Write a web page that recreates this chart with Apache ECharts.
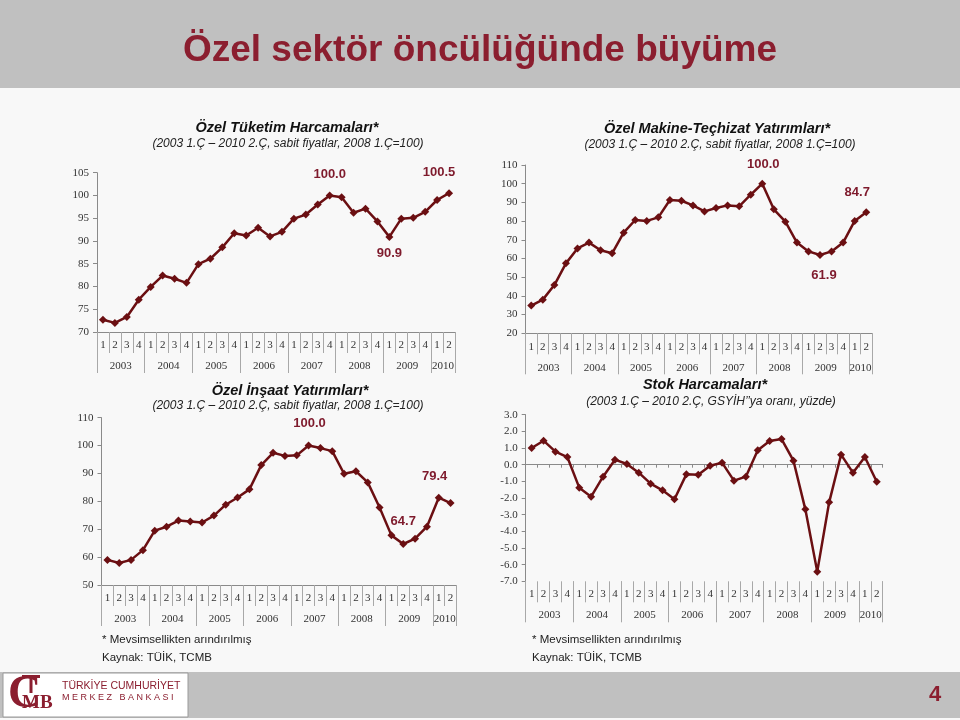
<!DOCTYPE html>
<html>
<head>
<meta charset="utf-8">
<script src="https://cdn.jsdelivr.net/npm/echarts@6/dist/echarts.min.js"></script>
<style>
html,body{margin:0;padding:0;background:#f8f8f8;}
#chart{width:960px;height:720px;}
</style>
</head>
<body>
<div id="chart"></div>
<script>
// ---- Data ----
const quarterLabels = ['1','2','3','4','1','2','3','4','1','2','3','4','1','2','3','4','1','2','3','4','1','2','3','4','1','2','3','4','1','2'];
const yearLabels = ['2003','2004','2005','2006','2007','2008','2009','2010'];
const yearQuarterCounts = [4,4,4,4,4,4,4,2];

const privateConsumption = [72.7,72.0,73.3,77.1, 79.9,82.4,81.7,80.8, 84.9,86.1,88.6,91.7, 91.2,92.9,91.0,92.0, 94.9,95.8,98.0,100.0, 99.6,96.2,97.1,94.3, 90.9,94.9,95.1,96.4, 99.0,100.5];
const machineryInvestment = [34.8,38.0,45.8,57.4, 65.4,68.5,64.4,62.8, 73.8,80.6,80.1,82.0, 91.3,90.9,88.4,85.2, 87.0,88.4,87.9,94.1, 100.0,86.3,79.7,68.5, 63.8,61.9,63.8,68.5, 80.1,84.7];
const constructionInvestment = [59.0,57.9,59.0,62.5, 69.5,70.9,73.1,72.8, 72.4,74.9,78.8,81.4, 84.3,93.0,97.4,96.3, 96.5,100.0,99.1,98.0, 89.9,90.8,86.8,77.8, 67.8,64.7,66.6,70.9, 81.3,79.4];
const inventoryChange = [1.0,1.44,0.78,0.46, -1.38,-1.92,-0.72,0.3, 0.04,-0.48,-1.14,-1.54, -2.08,-0.58,-0.6,-0.06, 0.12,-0.96,-0.72,0.86, 1.42,1.54,0.24,-2.68, -6.42,-2.26,0.6,-0.48, 0.46,-1.02];

const chartTitles = ['Özel Tüketim Harcamaları*','Özel Makine-Teçhizat Yatırımları*','Özel İnşaat Yatırımları*','Stok Harcamaları*'];
const chartSubtitles = ['(2003 1.Ç – 2010 2.Ç, sabit fiyatlar, 2008 1.Ç=100)','(2003 1.Ç – 2010 2.Ç, sabit fiyatlar, 2008 1.Ç=100)','(2003 1.Ç – 2010 2.Ç, sabit fiyatlar, 2008 1.Ç=100)','(2003 1.Ç – 2010 2.Ç, GSYİH’’ya oranı, yüzde)'];
const pageTitle = 'Özel sektör öncülüğünde büyüme';

// ---- Derived axis positions ----
const yearBounds = [0];
const yearCenters = [];
yearQuarterCounts.forEach(function(n){
  const start = yearBounds[yearBounds.length-1];
  yearCenters.push(start + n/2);
  yearBounds.push(start + n);
});

// ---- Styles ----
const LINE = '#6b0f12';
const LBL = '#7e1a2c';
const AX = '#8a8a8a';
const SERIF = "'Liberation Serif','Times New Roman',serif";
const SANS = "'Liberation Sans',Arial,sans-serif";

const grids = [
  {left:97, top:172.7, width:358, height:159.3},
  {left:525.5, top:165, width:346.5, height:168.3},
  {left:101.5, top:417.7, width:355, height:167.3},
  {left:525.7, top:414.7, width:357, height:166.6}
];
const yRanges = [
  {min:70, max:105, interval:5, dec:0},
  {min:20, max:110, interval:10, dec:0},
  {min:50, max:110, interval:10, dec:0},
  {min:-7, max:3, interval:1, dec:1}
];

const xAxes = [];
const yAxes = [];
const seriesList = [];
const datasets = [privateConsumption, machineryInvestment, constructionInvestment, inventoryChange];
// label placement: [index, position, offset]
const labelSpecs = [
  [[19,'top',[0,-6]],[29,'top',[-10,-5]],[24,'bottom',[0,1]]],
  [[20,'top',[1,-4]],[29,'top',[-9,-4]],[25,'bottom',[4,5]]],
  [[17,'top',[1,-7]],[25,'top',[0,-7]],[29,'top',[-16,-11]]],
  []
];

grids.forEach(function(g, gi){
  const isStock = gi === 3;
  const qIndex = xAxes.length;
  xAxes.push({
    type:'category', gridIndex:gi, data:quarterLabels, boundaryGap:true, position:'bottom',
    axisLine:{show:!isStock, onZero:false, lineStyle:{color:AX, width:1}},
    axisTick:{show:true, interval:0, length:21, lineStyle:{color:'#a8a8a8'}},
    axisLabel:{interval:0, margin:isStock?7:8, fontFamily:SERIF, fontSize:11, color:'#333'},
    splitLine:{show:false}
  });
  xAxes.push({
    type:'value', gridIndex:gi, min:0, max:30, position:'bottom',
    axisLine:{show:false, onZero:false},
    axisTick:{show:true, customValues:yearBounds, length:41, lineStyle:{color:'#a8a8a8'}},
    axisLabel:{customValues:yearCenters, margin:isStock?28:29, fontFamily:SERIF, fontSize:11, color:'#333',
      formatter:function(v){ const i = yearCenters.indexOf(v); return i>=0 ? yearLabels[i] : ''; }},
    splitLine:{show:false}
  });
  if (isStock) {
    xAxes.push({
      type:'category', gridIndex:gi, data:quarterLabels, boundaryGap:true, position:'bottom',
      axisLine:{show:true, onZero:true, lineStyle:{color:AX, width:1}},
      axisTick:{show:true, interval:0, length:3, lineStyle:{color:AX}},
      axisLabel:{show:false}, splitLine:{show:false}
    });
  }
  const r = yRanges[gi];
  yAxes.push({
    type:'value', gridIndex:gi, min:r.min, max:r.max, interval:r.interval,
    axisLine:{show:true, onZero:false, lineStyle:{color:AX}},
    axisTick:{show:true, length:4, lineStyle:{color:AX}},
    axisLabel:{margin:8, fontFamily:SERIF, fontSize:11, color:'#333',
      formatter:function(v){ return v.toFixed(r.dec); }},
    splitLine:{show:false}
  });
  const specs = labelSpecs[gi];
  const data = datasets[gi].map(function(v, i){
    const s = specs.find(function(sp){ return sp[0] === i; });
    if (!s) return v;
    return {value:v, label:{show:true, position:s[1], offset:s[2], formatter:function(p){ return p.value.toFixed(1); },
      fontFamily:SANS, fontWeight:'bold', fontSize:13, color:LBL}};
  });
  seriesList.push({
    type:'line', xAxisIndex:qIndex, yAxisIndex:gi, data:data,
    symbol:'diamond', symbolSize:8, showAllSymbol:true,
    lineStyle:{color:LINE, width:2.5}, itemStyle:{color:LINE},
    label:{show:false}, animation:false, silent:true
  });
});

// ---- Decorations ----
const titlePos = [
  {tx:287, ty:128, sx:288, sy:143.5},
  {tx:717, ty:129, sx:720, sy:144.5},
  {tx:290, ty:390.5, sx:288, sy:405.5},
  {tx:705, ty:385, sx:711, sy:401.5}
];
const graphics = [
  {type:'rect', shape:{x:0, y:0, width:960, height:88}, style:{fill:'#c0c0c0'}, z:-10},
  {type:'rect', shape:{x:0, y:672, width:960, height:46}, style:{fill:'#c0c0c0'}, z:-10},
  {type:'text', x:480, y:51, style:{text:pageTitle, fill:'#8b1e2f', font:"bold 37px 'Liberation Sans', Arial, sans-serif", textAlign:'center', textVerticalAlign:'middle'}},
  {type:'text', x:102, y:640, style:{text:'* Mevsimsellikten arındırılmış', fill:'#222', font:"11.5px 'Liberation Sans', Arial, sans-serif", textVerticalAlign:'middle'}},
  {type:'text', x:102, y:658, style:{text:'Kaynak: TÜİK, TCMB', fill:'#222', font:"11.5px 'Liberation Sans', Arial, sans-serif", textVerticalAlign:'middle'}},
  {type:'text', x:532, y:640, style:{text:'* Mevsimsellikten arındırılmış', fill:'#222', font:"11.5px 'Liberation Sans', Arial, sans-serif", textVerticalAlign:'middle'}},
  {type:'text', x:532, y:658, style:{text:'Kaynak: TÜİK, TCMB', fill:'#222', font:"11.5px 'Liberation Sans', Arial, sans-serif", textVerticalAlign:'middle'}},
  {type:'rect', shape:{x:3, y:673, width:185, height:44}, style:{fill:'#ffffff', stroke:'#9a9a9a', lineWidth:1}},
  {type:'text', x:8, y:695, style:{text:'C', fill:'#8b1e2f', font:"bold 46px 'Liberation Serif', serif", textVerticalAlign:'middle'}},
  {type:'rect', shape:{x:22, y:675, width:18, height:3}, style:{fill:'#8b1e2f'}},
  {type:'rect', shape:{x:29.5, y:675, width:3, height:18}, style:{fill:'#8b1e2f'}},
  {type:'text', x:22, y:703, style:{text:'MB', fill:'#8b1e2f', font:"bold 19px 'Liberation Serif', serif", textVerticalAlign:'middle'}},
  {type:'text', x:62, y:686, style:{text:'TÜRKİYE CUMHURİYET', fill:'#8b1e2f', font:"10.5px 'Liberation Sans Narrow','Liberation Sans', Arial, sans-serif", textVerticalAlign:'middle'}},
  {type:'text', x:62, y:698, style:{text:'M E R K E Z   B A N K A S I', fill:'#8b1e2f', font:"9px 'Liberation Sans', Arial, sans-serif", textVerticalAlign:'middle'}},
  {type:'text', x:935, y:695, style:{text:'4', fill:'#8b1e2f', font:"bold 22px 'Liberation Sans', Arial, sans-serif", textAlign:'center', textVerticalAlign:'middle'}}
];
titlePos.forEach(function(p, i){
  graphics.push({type:'text', x:p.tx, y:p.ty, style:{text:chartTitles[i], fill:'#111', font:"italic bold 14.5px 'Liberation Sans', Arial, sans-serif", textAlign:'center', textVerticalAlign:'middle'}});
  graphics.push({type:'text', x:p.sx, y:p.sy, style:{text:chartSubtitles[i], fill:'#222', font:"italic 12px 'Liberation Sans', Arial, sans-serif", textAlign:'center', textVerticalAlign:'middle'}});
});

const chart = echarts.init(document.getElementById('chart'), null, {renderer:'canvas'});
chart.setOption({
  backgroundColor:'#f8f8f8',
  animation:false,
  grid:grids,
  xAxis:xAxes,
  yAxis:yAxes,
  series:seriesList,
  graphic:graphics
});
</script>
</body>
</html>
